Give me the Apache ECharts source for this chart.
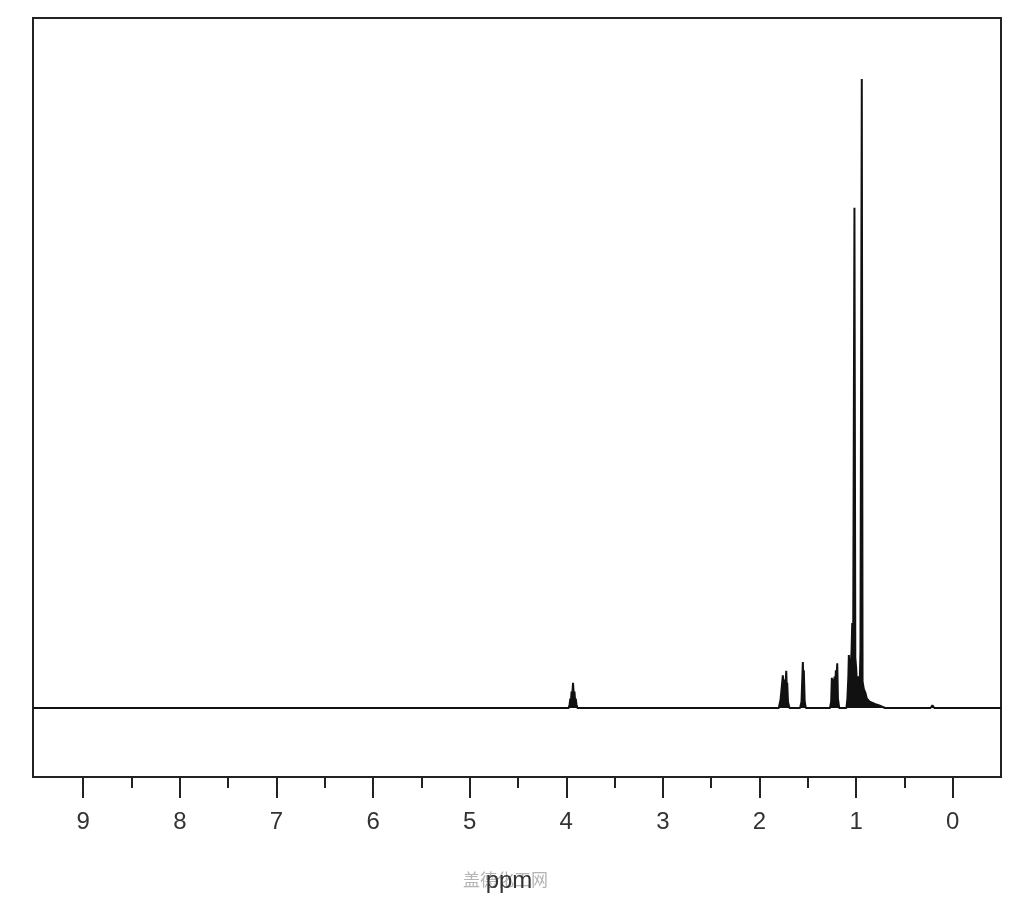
<!DOCTYPE html>
<html>
<head>
<meta charset="utf-8">
<script src="https://cdn.jsdelivr.net/npm/echarts/dist/echarts.min.js"></script>
<style>
  html, body { margin: 0; padding: 0; background: #ffffff; }
  #chart { width: 1024px; height: 900px; }
</style>
</head>
<body>
<div id="chart"></div>
<script>
// ---- data (ppm, relative intensity) ----
const ppm = [
  9.52,
  3.975, 3.965, 3.958, 3.952, 3.945, 3.938, 3.930, 3.922, 3.915, 3.908, 3.902, 3.895, 3.885,
  1.800, 1.782, 1.770, 1.758, 1.750, 1.741, 1.733, 1.723, 1.718, 1.713, 1.705, 1.690,
  1.580, 1.565, 1.551, 1.546, 1.541, 1.532, 1.520,
  1.270, 1.258, 1.251, 1.245, 1.237, 1.230, 1.223, 1.215, 1.209, 1.202, 1.195, 1.188, 1.175,
  1.100, 1.090, 1.080, 1.075, 1.065, 1.055, 1.047, 1.040, 1.030, 1.017, 1.008, 0.999, 0.990,
  0.975, 0.962, 0.955, 0.941, 0.933, 0.920, 0.903, 0.890, 0.860, 0.830, 0.800, 0.760, 0.730, 0.700,
  0.500,
  0.230, 0.210, 0.190,
  -0.50
];
const intensity = [
  0,
  0, 0.6, 1.5, 1.0, 2.6, 2.0, 4.0, 2.0, 2.6, 1.0, 1.5, 0.6, 0,
  0, 1.3, 1.0, 5.2, 3.0, 4.5, 3.0, 5.9, 3.5, 4.0, 1.0, 0,
  0, 1.0, 7.3, 4.0, 6.0, 1.0, 0,
  0, 1.0, 4.8, 3.5, 4.6, 3.6, 5.0, 4.0, 6.0, 4.5, 7.1, 1.5, 0,
  0, 1.5, 5.0, 8.4, 6.0, 7.0, 9.0, 13.5, 11.0, 79.4, 8.0, 6.3, 3.5,
  5.0, 4.0, 9.0, 99.8, 4.2, 3.0, 2.4, 1.5, 1.0, 0.8, 0.6, 0.4, 0.2, 0,
  0,
  0, 0.4, 0,
  0
];
const majorTicks = [0, 1, 2, 3, 4, 5, 6, 7, 8, 9];
const minorTicks = [0.5, 1.5, 2.5, 3.5, 4.5, 5.5, 6.5, 7.5, 8.5];
const axisName = 'ppm';
const watermark = '盖德化工网';

const spectrum = ppm.map((p, i) => [p, intensity[i]]);

const chart = echarts.init(document.getElementById('chart'), null, { renderer: 'canvas' });
chart.setOption({
  animation: false,
  backgroundColor: '#ffffff',
  grid: {
    left: 33, right: 23, top: 18, bottom: 123,
    show: true, borderColor: '#222', borderWidth: 2, backgroundColor: 'transparent'
  },
  graphic: [{
    type: 'text',
    left: 463, top: 871,
    z: 0,
    style: { text: watermark, fill: '#b4b4b4', font: '17px "Noto Sans CJK SC"' }
  }],
  xAxis: [{
    type: 'value',
    inverse: true,
    min: -0.5, max: 9.52,
    position: 'bottom',
    axisLine: { show: false, onZero: false },
    splitLine: { show: false },
    axisTick: { show: true, customValues: majorTicks, length: 21, lineStyle: { color: '#222', width: 2 } },
    axisLabel: {
      customValues: majorTicks, margin: 33,
      color: '#333', fontSize: 24, fontFamily: '"Liberation Sans", Arial, sans-serif'
    },
    name: axisName,
    nameLocation: 'middle',
    nameGap: 92,
    nameTextStyle: { color: '#333', fontSize: 24, fontFamily: '"Liberation Sans", Arial, sans-serif', padding: [0, 16, 0, 0] }
  }, {
    type: 'value',
    inverse: true,
    min: -0.5, max: 9.52,
    position: 'bottom',
    axisLine: { show: false, onZero: false },
    splitLine: { show: false },
    axisLabel: { show: false },
    axisTick: { show: true, customValues: minorTicks, length: 11, lineStyle: { color: '#222', width: 2 } }
  }],
  yAxis: {
    type: 'value',
    min: -10.95, max: 109.5,
    show: false
  },
  series: [{
    type: 'line',
    xAxisIndex: 0,
    data: spectrum,
    showSymbol: false,
    symbol: 'none',
    clip: true,
    lineStyle: { color: '#111', width: 2 },
    areaStyle: { color: '#111', opacity: 1, origin: 0 }
  }]
});
</script>
</body>
</html>
